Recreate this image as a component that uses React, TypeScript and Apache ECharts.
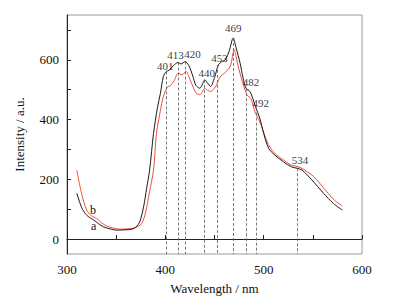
import React, { useEffect, useRef } from "react";
import * as echarts from "echarts";

// Curve a (black)
const waveA = [310, 315, 320, 327, 337, 345, 350, 360, 366, 370, 374, 378, 381, 384, 388, 392, 395, 398, 401, 404, 408, 413, 416, 420, 424, 428, 431, 435, 438, 440, 443, 446, 450, 454, 458, 461, 465, 469, 472, 476, 479, 482, 486, 489, 492, 496, 500, 505, 511, 520, 528, 534, 539, 549, 561, 571, 580];
const intensityA = [153, 105, 80, 64, 41, 33, 30, 31, 33, 40, 58, 110, 170, 231, 354, 440, 488, 544, 561, 565, 580, 591, 586, 594, 580, 545, 515, 505, 520, 533, 522, 511, 540, 583, 595, 600, 630, 673, 640, 589, 540, 505, 494, 470, 440, 405, 354, 304, 282, 259, 242, 237, 231, 198, 153, 119, 97];

// Curve b (red)
const waveB = [310, 315, 320, 325, 330, 335, 340, 347, 354, 360, 367, 372, 376, 380, 384, 388, 391, 395, 398, 402, 405, 409, 413, 417, 421, 425, 428, 431, 435, 438, 440, 443, 446, 450, 452, 456, 460, 466, 470, 472, 475, 479, 483, 487, 491, 495, 498, 503, 507, 512, 520, 528, 537, 543, 551, 564, 572, 580];
const intensityB = [231, 150, 97, 78, 69, 55, 44, 37, 33, 34, 36, 42, 52, 90, 160, 231, 354, 430, 477, 508, 513, 530, 555, 550, 561, 535, 511, 490, 483, 495, 505, 498, 494, 505, 516, 544, 555, 578, 634, 610, 566, 520, 483, 470, 427, 400, 376, 330, 304, 285, 265, 248, 240, 228, 209, 159, 130, 111];

// Marked peaks
const peakWave = [401, 413, 420, 440, 453, 469, 482, 492, 534];
const peakIntensity = [561, 591, 594, 533, 583, 673, 505, 440, 237];

// Tick values
const xTicks = [300, 400, 500, 600];
const yLabels = [0, 200, 400, 600];
const yTicks = [0, 100, 200, 300, 400, 500, 600, 700];

// Label offsets for peak numbers (layout only)
const peakLabelOffsets: [number, number][] = [
  [-1, 0], [-2.5, -2], [7.5, -2], [2, -1], [2, -1], [0, -5], [5, -1], [5, 1], [3, -3],
];

const FONT = "Times New Roman, Liberation Serif, DejaVu Serif, serif";

export default function App() {
  const ref = useRef<HTMLDivElement>(null);
  useEffect(() => {
    document.body.style.margin = "0";
    if (!ref.current) return;
    const chart = echarts.init(ref.current, undefined, { renderer: "svg" });
    const seriesA = waveA.map((w, i) => [w, intensityA[i]]);
    const seriesB = waveB.map((w, i) => [w, intensityB[i]]);
    const option: any = {
      animation: false,
      backgroundColor: "#ffffff",
      textStyle: { fontFamily: FONT },
      grid: {
        left: 67,
        top: 15,
        right: 35,
        bottom: 51,
        show: true,
        borderColor: "#9a9a9a",
        borderWidth: 1,
      },
      xAxis: {
        type: "value",
        min: 300,
        max: 600,
        interval: 100,
        name: "Wavelength / nm",
        nameLocation: "middle",
        nameGap: 28,
        nameTextStyle: { fontFamily: FONT, fontSize: 13, color: "#111" },
        axisLine: { lineStyle: { color: "#222", width: 1 } },
        axisTick: { inside: true, length: 4, lineStyle: { color: "#222" } },
        minorTick: { show: true, splitNumber: 2, length: 4, lineStyle: { color: "#222" } },
        axisLabel: {
          customValues: xTicks,
          fontFamily: FONT,
          fontSize: 13,
          color: "#111",
          margin: 9,
        },
        splitLine: { show: false },
      },
      yAxis: {
        type: "value",
        min: -50,
        max: 750,
        name: "Intensity / a.u.",
        nameLocation: "middle",
        nameGap: 41,
        nameTextStyle: { fontFamily: FONT, fontSize: 13, color: "#111" },
        axisLine: { show: true, lineStyle: { color: "#222", width: 1 } },
        axisTick: {
          inside: true,
          length: 4,
          customValues: yTicks,
          lineStyle: { color: "#222" },
        },
        axisLabel: {
          customValues: yLabels,
          fontFamily: FONT,
          fontSize: 13,
          color: "#111",
          margin: 8,
        },
        splitLine: { show: false },
      },
      series: [
        {
          type: "line",
          name: "a",
          data: seriesA,
          smooth: 0.3,
          showSymbol: false,
          lineStyle: { color: "#1a1a1a", width: 1 },
          itemStyle: { color: "#1a1a1a" },
          z: 3,
          markLine: {
            silent: true,
            symbol: "none",
            label: { show: false },
            lineStyle: { color: "#555", width: 0.8, type: [3, 2] },
            data: peakWave.map((w, i) => [
              { coord: [w, peakIntensity[i]] },
              { coord: [w, -50] },
            ]),
          },
        },
        {
          type: "line",
          name: "b",
          data: seriesB,
          smooth: 0.3,
          showSymbol: false,
          lineStyle: { color: "#ee4e3e", width: 1 },
          itemStyle: { color: "#ee4e3e" },
          z: 2,
        },
        {
          type: "scatter",
          name: "peaks",
          symbolSize: 0,
          silent: true,
          data: peakWave.map((w, i) => ({
            value: [w, peakIntensity[i]],
            label: { offset: peakLabelOffsets[i] },
          })),
          label: {
            show: true,
            position: "top",
            distance: 0,
            formatter: (p: any) => String(p.value[0]),
            fontFamily: FONT,
            fontSize: 11,
            color: "#000",
          },
          z: 5,
        },
      ],
      graphic: [
        {
          type: "text",
          left: 90,
          top: 204,
          style: { text: "b", fontFamily: FONT, fontSize: 12, fill: "#111" },
        },
        {
          type: "text",
          left: 91,
          top: 220,
          style: { text: "a", fontFamily: FONT, fontSize: 12, fill: "#111" },
        },
      ],
    };
    chart.setOption(option);
    return () => chart.dispose();
  }, []);
  return <div ref={ref} style={{ width: 397, height: 305 }} />;
}
